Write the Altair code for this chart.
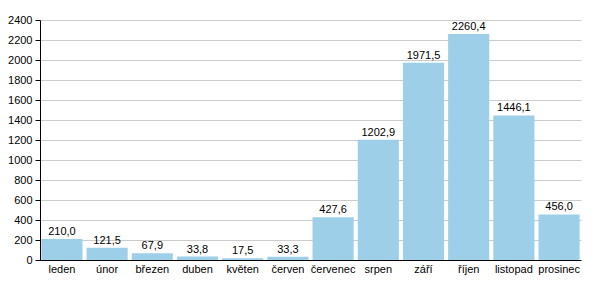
import altair as alt
import pandas as pd

months = ["leden", "únor", "březen", "duben", "květen", "červen", "červenec",
          "srpen", "září", "říjen", "listopad", "prosinec"]
values = [210.0, 121.5, 67.9, 33.8, 17.5, 33.3, 427.6, 1202.9, 1971.5, 2260.4, 1446.1, 456.0]
labels = [f"{v:.1f}".replace(".", ",") for v in values]
ticks = [0, 200, 400, 600, 800, 1000, 1200, 1400, 1600, 1800, 2000, 2200, 2400]

df = pd.DataFrame({"month": months, "value": values, "label": labels})

x = alt.X("month:N", sort=months, title=None,
          scale=alt.Scale(paddingInner=0.09, paddingOuter=0.03),
          axis=alt.Axis(labelAngle=0, ticks=False, domainColor="black", labelColor="black",
                        labelFont="Liberation Sans", labelFontSize=11, labelPadding=3))
y = alt.Y("value:Q", title=None,
          scale=alt.Scale(domain=[0, 2400], nice=False),
          axis=alt.Axis(values=ticks, format="d", labelOverlap=False,
                        domainColor="black", tickColor="black",
                        tickSize=5, labelColor="black", labelFont="Liberation Sans",
                        labelFontSize=11, gridColor="#cccccc", labelPadding=3))

base = alt.Chart(df).encode(x=x, y=y)
bars = base.mark_bar(color="#9dcfe8")
text = base.mark_text(dy=-7, font="Liberation Sans", fontSize=11, color="black").encode(text="label:N")

chart = (bars + text).properties(
    width=541, height=240,
    autosize=alt.AutoSizeParams(type="none"),
    padding={"left": 40, "top": 20, "right": 19, "bottom": 40},
).configure_view(stroke=None)

chart.save("out.html", embed_options={"renderer": "svg", "actions": False})
